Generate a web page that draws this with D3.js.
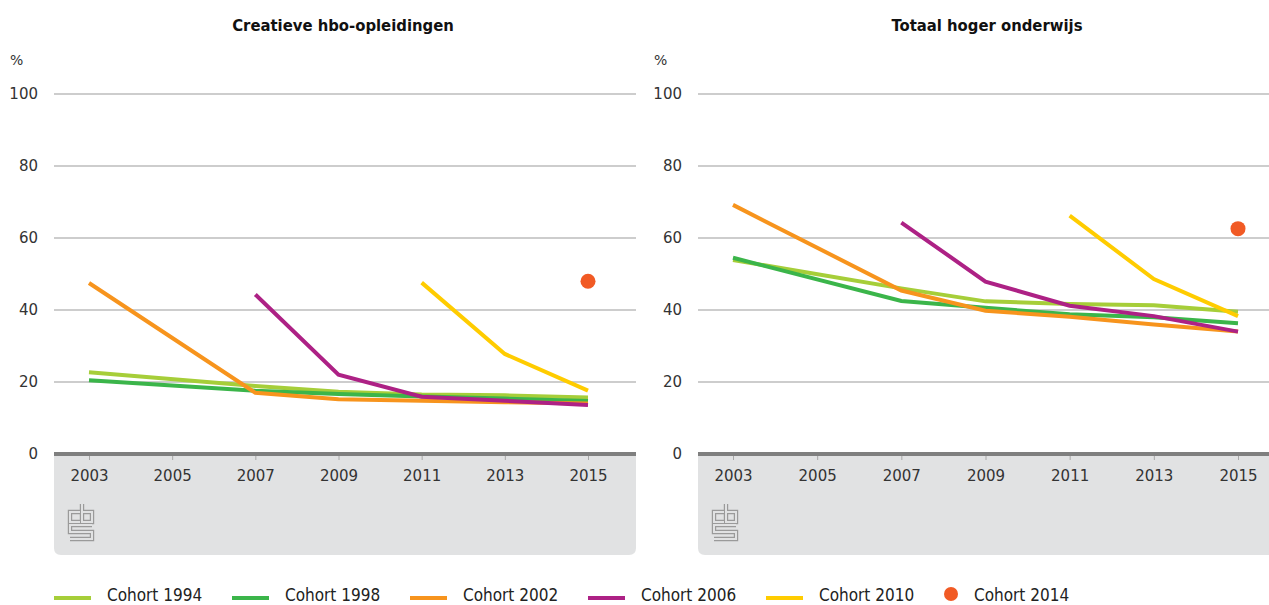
<!DOCTYPE html>
<html>
<head>
<meta charset="utf-8">
<script src="https://cdn.jsdelivr.net/npm/d3@7"></script>
<style>
  body { margin: 0; background: #fff; }
  svg { display: block; font-family: "DejaVu Sans", sans-serif; }
  .tick-label { font-family: "DejaVu Sans", sans-serif; font-size: 15px; fill: #333; }
  .title { font-family: "DejaVu Sans Condensed", "DejaVu Sans", sans-serif; font-weight: bold; font-size: 16.5px; fill: #111; }
  .legend-label { font-family: "DejaVu Sans Condensed", "DejaVu Sans", sans-serif; font-size: 17px; fill: #222; }
</style>
</head>
<body>
<svg id="chart" width="1269" height="605"></svg>
<script>
// years on the x axis (2005 has no observations)
const years = [2003, 2005, 2007, 2009, 2011, 2013, 2015];
const yTicks = [0, 20, 40, 60, 80, 100];
const cohorts = ["Cohort 1994", "Cohort 1998", "Cohort 2002", "Cohort 2006", "Cohort 2010", "Cohort 2014"];
const colors = ["#a6ce39", "#3bb54a", "#f7941d", "#ad2185", "#ffcc00", "#f15a24"];
const titles = ["Creatieve hbo-opleidingen", "Totaal hoger onderwijs"];

// Creatieve hbo-opleidingen, % per year
const creatief1994 = [22.7, null, 18.9, 17.3, 16.5, 16.3, 15.7];
const creatief1998 = [20.5, null, 17.6, 16.7, 16.0, 15.4, 14.7];
const creatief2002 = [47.5, null, 17.0, 15.2, 14.8, 14.4, 14.0];
const creatief2006 = [null, null, 44.3, 22.0, 15.9, 14.8, 13.6];
const creatief2010 = [null, null, null, null, 47.6, 27.8, 17.6];
const creatief2014 = [null, null, null, null, null, null, 48.0];

// Totaal hoger onderwijs, % per year
const totaal1994 = [53.9, null, 46.0, 42.4, 41.7, 41.3, 39.5];
const totaal1998 = [54.5, null, 42.5, 40.6, 38.8, 38.0, 36.3];
const totaal2002 = [69.2, null, 45.4, 39.8, 38.1, 36.0, 34.0];
const totaal2006 = [null, null, 64.3, 47.9, 41.2, 38.3, 34.0];
const totaal2010 = [null, null, null, null, 66.2, 48.6, 38.3];
const totaal2014 = [null, null, null, null, null, null, 62.6];

const panels = [
  { title: titles[0], series: [creatief1994, creatief1998, creatief2002, creatief2006, creatief2010, creatief2014],
    left: 54, right: 636, x0: 89, x1: 588, labelX: 38 },
  { title: titles[1], series: [totaal1994, totaal1998, totaal2002, totaal2006, totaal2010, totaal2014],
    left: 698, right: 1290, x0: 733, x1: 1238, labelX: 682 }
];

const svg = d3.select("#chart");
const yScale = d3.scaleLinear().domain([0, 100]).range([454, 94]);
const panelBottom = 555;

function drawLogo(g) {
  // small cbs mark: thick grey stroke with a thin panel coloured stroke on top
  const d = "M12,9 H2 V19 H12 M14,1 V19 H24 V9 H14 M24,22 H2 V29 H24 V36 H2";
  g.append("path").attr("d", d).attr("fill", "none")
    .attr("stroke", "#9a9a9a").attr("stroke-width", 4.4);
  g.append("path").attr("d", d).attr("fill", "none")
    .attr("stroke", "#e1e2e3").attr("stroke-width", 2);
}

panels.forEach(p => {
  const g = svg.append("g");
  const xScale = d3.scaleLinear().domain([2003, 2015]).range([p.x0, p.x1]);

  // grey area below the x axis
  const r = 7, top = 455, L = p.left, R = p.right, B = panelBottom;
  g.append("path")
    .attr("d", `M${L},${top} H${R} V${B - r} Q${R},${B} ${R - r},${B} H${L + r} Q${L},${B} ${L},${B - r} Z`)
    .attr("fill", "#e1e2e3");

  // title
  g.append("text").attr("class", "title")
    .attr("x", (p.left + Math.min(p.right, 1280)) / 2 - 2).attr("y", 31)
    .attr("text-anchor", "middle").text(p.title);

  // unit
  g.append("text").attr("class", "tick-label")
    .attr("x", p.left - 44).attr("y", 65).style("font-size", "14px").text("%");

  // gridlines and y labels
  yTicks.forEach(t => {
    if (t > 0) {
      g.append("line")
        .attr("x1", p.left).attr("x2", p.right)
        .attr("y1", yScale(t)).attr("y2", yScale(t))
        .attr("stroke", "#bdbdbd").attr("stroke-width", 1.5);
    }
    g.append("text").attr("class", "tick-label")
      .attr("x", p.labelX).attr("y", yScale(t))
      .attr("dy", "0.35em").attr("text-anchor", "end").text(t);
  });

  // x axis
  const xAxis = d3.axisBottom(xScale).tickValues(years).tickFormat(d3.format("d"))
    .tickSize(6).tickPadding(10);
  const ax = g.append("g").attr("transform", `translate(0,${yScale(0)})`).call(xAxis)
    .attr("font-family", null).attr("font-size", null);
  ax.select(".domain").remove();
  ax.selectAll(".tick line").attr("stroke", "#a8a8a8").attr("stroke-width", 1);
  ax.selectAll(".tick text").attr("class", "tick-label").attr("fill", null);
  g.append("line")
    .attr("x1", p.left).attr("x2", p.right)
    .attr("y1", yScale(0)).attr("y2", yScale(0))
    .attr("stroke", "#7f7f7f").attr("stroke-width", 4);

  drawLogo(g.append("g").attr("transform", `translate(${p.left + 14},${503})`));

  // cohort lines
  const line = d3.line().x(d => xScale(d[0])).y(d => yScale(d[1]));
  p.series.forEach((vals, i) => {
    const pts = years.map((y, j) => [y, vals[j]]).filter(d => d[1] != null);
    if (pts.length > 1) {
      g.append("path").datum(pts)
        .attr("d", line).attr("fill", "none")
        .attr("stroke", colors[i]).attr("stroke-width", 4)
        .attr("stroke-linejoin", "miter");
    } else {
      g.selectAll(null).data(pts).join("circle")
        .attr("cx", d => xScale(d[0])).attr("cy", d => yScale(d[1]))
        .attr("r", 7.5).attr("fill", colors[i]);
    }
  });
});

// legend
const legend = svg.append("g").attr("transform", "translate(54,595)");
cohorts.forEach((c, i) => {
  const item = legend.append("g").attr("transform", `translate(${i * 178},0)`);
  if (i < 5) {
    item.append("line").attr("x1", 0).attr("x2", 37).attr("y1", 3).attr("y2", 3)
      .attr("stroke", colors[i]).attr("stroke-width", 4);
  } else {
    item.append("circle").attr("cx", 7).attr("cy", -1).attr("r", 7).attr("fill", colors[i]);
  }
  item.append("text").attr("class", "legend-label")
    .attr("x", i < 5 ? 53 : 30).attr("y", 0).attr("dy", "0.35em").text(c);
});
</script>
</body>
</html>
